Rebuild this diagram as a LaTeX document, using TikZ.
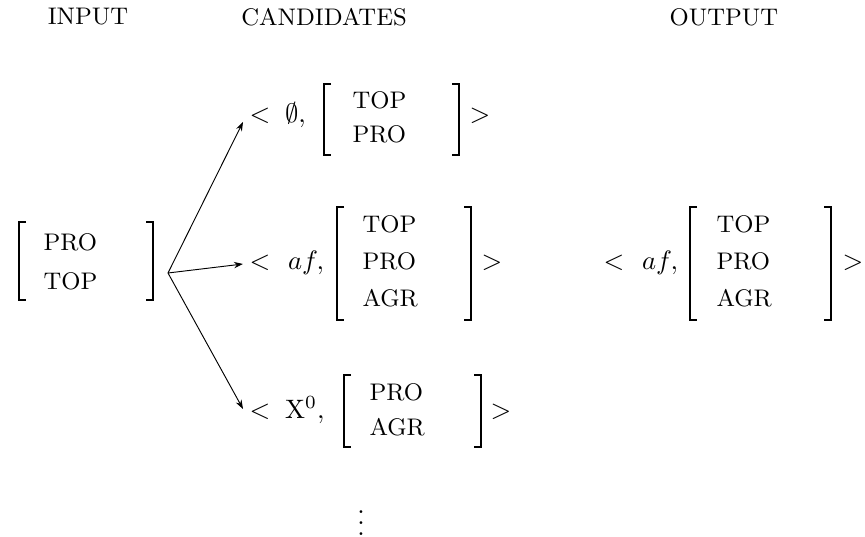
\documentclass[tikz,border=0pt]{standalone}
\usetikzlibrary{arrows.meta}
\begin{document}
\begin{tikzpicture}[x=0.375pt,y=-0.375pt,
  lbl/.style={inner sep=0pt, anchor=west, font=\fontsize{9}{11}\selectfont},
  hd/.style={inner sep=0pt, font=\fontsize{9}{11}\selectfont},
  mth/.style={inner sep=0pt, anchor=base west},
  brk/.style={line width=0.75pt},
  arr/.style={line width=0.35pt, -{Stealth[length=3.4pt,width=2.4pt]}}]
\useasboundingbox (0,0) rectangle (865,537);
% headings
\node[hd] (hin) at (88,17) {INPUT};
\node[hd] (hcand) at (324,17) {CANDIDATES};
\node[hd] (hout) at (724,17) {OUTPUT};
% input
\node[lbl] (ipro) at (43,242) {PRO};
\node[lbl] (itop) at (43,281) {TOP};
\draw[brk] (26,222) -- (19,222) -- (19,300) -- (26,300);
\draw[brk] (146,222) -- (153,222) -- (153,300) -- (146,300);
\coordinate (src) at (168,273);
% candidate 1
\node[mth] (c1) at (249,123) {$<\;\emptyset,$};
\node[lbl] (c1top) at (352,100) {TOP};
\node[lbl] (c1pro) at (352,134) {PRO};
\draw[brk] (331,84) -- (324,84) -- (324,155) -- (331,155);
\draw[brk] (452,84) -- (459,84) -- (459,155) -- (452,155);
\node[mth] (c1g) at (469,123) {$>$};
% candidate 2
\node[mth] (c2) at (249,270) {$<\mkern7mu af,$};
\node[lbl] (c2top) at (362,224) {TOP};
\node[lbl] (c2pro) at (362,261) {PRO};
\node[lbl] (c2agr) at (362,298) {AGR};
\draw[brk] (344,207) -- (337,207) -- (337,320) -- (344,320);
\draw[brk] (464,207) -- (471,207) -- (471,320) -- (464,320);
\node[mth] (c2g) at (481,270) {$>$};
% candidate 3
\node[mth] (c3) at (249,418) {$<\;\mathrm{X}^0,$};
\node[lbl] (c3pro) at (369,392) {PRO};
\node[lbl] (c3agr) at (369,427) {AGR};
\draw[brk] (351,375) -- (344,375) -- (344,447) -- (351,447);
\draw[brk] (474,375) -- (481,375) -- (481,447) -- (474,447);
\node[mth] (c3g) at (490,418) {$>$};
% dots
\node[inner sep=0pt] (dots) at (361,515) {$\vdots$};
% output
\node[mth] (o) at (603,270) {$<\mkern7mu af,$};
\node[lbl] (otop) at (716,224) {TOP};
\node[lbl] (opro) at (716,261) {PRO};
\node[lbl] (oagr) at (716,298) {AGR};
\draw[brk] (697,207) -- (690,207) -- (690,320) -- (697,320);
\draw[brk] (824,207) -- (831,207) -- (831,320) -- (824,320);
\node[mth] (og) at (842,270) {$>$};
% arrows
\coordinate (t1) at (243,122);
\coordinate (t2) at (243,264);
\coordinate (t3) at (243,409);
\draw[arr] (src) -- (t1);
\draw[arr] (src) -- (t2);
\draw[arr] (src) -- (t3);
\end{tikzpicture}
\end{document}
